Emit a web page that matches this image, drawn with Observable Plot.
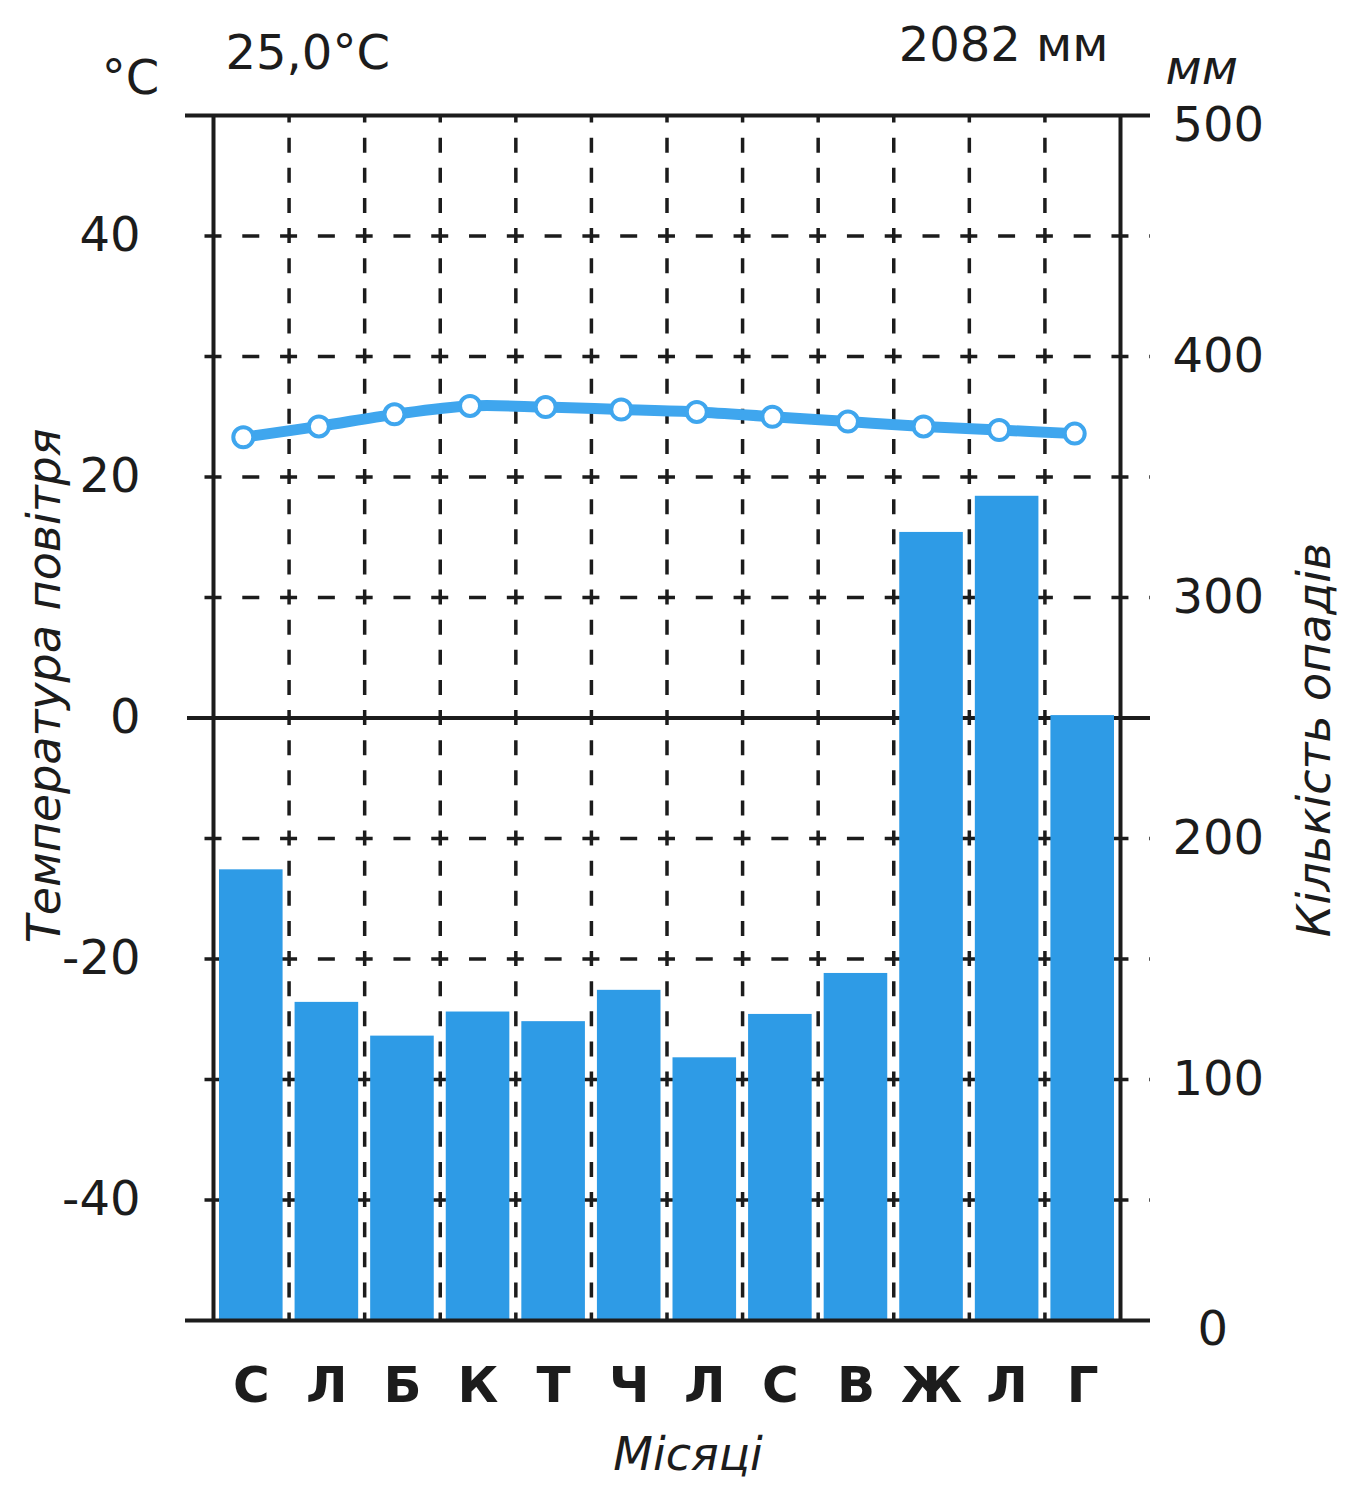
<!DOCTYPE html>
<html>
<head>
<meta charset="utf-8">
<script src="https://cdn.jsdelivr.net/npm/d3@7"></script>
<script src="https://cdn.jsdelivr.net/npm/@observablehq/plot@0.6"></script>
<style>
  html, body { margin: 0; padding: 0; background: #fff; }
</style>
</head>
<body>
<script>
// ---- data ----
const months = ["С", "Л", "Б", "К", "Т", "Ч", "Л", "С", "В", "Ж", "Л", "Г"];
const temperature = [23.3, 24.2, 25.2, 25.9, 25.8, 25.6, 25.4, 25.0, 24.6, 24.2, 23.9, 23.6]; // °C
const precipitation = [187, 132, 118, 128, 124, 137, 109, 127, 144, 327, 342, 251];          // mm
const tempTicks = [40, 20, 0, -20, -40];
const precipTicks = [0, 100, 200, 300, 400, 500];
const meanTempLabel = "25,0°C";
const totalPrecipLabel = "2082 мм";
const tempUnit = "°C";
const precipUnit = "мм";
const tempTitle = "Температура повітря";
const precipTitle = "Кількість опадів";
const monthTitle = "Місяці";

// precipitation axis: 0 mm ↔ -50 °C, 500 mm ↔ 50 °C
const mmToY = mm => mm / 5 - 50;

const table = months.map((m, i) => ({i, month: m, temp: temperature[i], precip: precipitation[i]}));
const gridTemps = d3.range(-40, 50, 10).filter(t => t !== 0);
const boundaries = d3.range(1, 12);

const ink = "#1c1c1c";
const barColor = "#2e9be6";
const lineColor = "#3fa6ee";
const font = "DejaVu Sans";
const T = {fill: ink, lineAnchor: "middle"};

const chart = Plot.plot({
  width: 1345,
  height: 1486,
  marginLeft: 213,
  marginRight: 225,
  marginTop: 115,
  marginBottom: 166,
  x: {domain: [0, 12], axis: null},
  y: {domain: [-50, 50], axis: null},
  style: {fontFamily: font, background: "#fff", overflow: "visible", color: ink},
  marks: [
    // dashed horizontal grid (every 10 °C)
    Plot.ruleY(gridTemps, {
      stroke: ink, strokeWidth: 3.5,
      strokeDasharray: "17 20.79", strokeDashoffset: 20.29,
      insetLeft: -26, insetRight: -30
    }),
    // zero line (under bars)
    Plot.ruleY([0], {stroke: ink, strokeWidth: 4, insetLeft: -26, insetRight: -30}),
    // precipitation bars
    Plot.rectY(table, {
      x1: d => d.i, x2: d => d.i + 1,
      y1: -50, y2: d => mmToY(d.precip),
      fill: barColor, insetLeft: 6, insetRight: 6
    }),
    // dashed vertical grid (month boundaries)
    Plot.ruleX(boundaries, {
      stroke: ink, strokeWidth: 3.5,
      strokeDasharray: "15 15.125", strokeDashoffset: 7.5
    }),
    // frame
    Plot.ruleX([0, 12], {stroke: ink, strokeWidth: 4}),
    Plot.ruleY([50, -50], {stroke: ink, strokeWidth: 4, insetLeft: -28, insetRight: -30}),
    // temperature curve
    Plot.line(table, {
      x: d => d.i + 0.5, y: "temp", dx: -8,
      stroke: lineColor, strokeWidth: 11, curve: "catmull-rom"
    }),
    Plot.dot(table, {
      x: d => d.i + 0.5, y: "temp", dx: -8,
      r: 10, fill: "#fff", stroke: lineColor, strokeWidth: 4
    }),
    // left tick labels
    Plot.text(tempTicks, {
      ...T, y: d => d, text: d => String(d), frameAnchor: "left",
      textAnchor: "end", dx: -73, fontSize: 48
    }),
    // right tick labels
    Plot.text(precipTicks.filter(d => d > 0 && d < 500), {
      ...T, y: d => mmToY(d), text: d => String(d), frameAnchor: "right",
      textAnchor: "start", dx: 52, fontSize: 48
    }),
    Plot.text(precipTicks.filter(d => d === 500), {
      ...T, y: d => mmToY(d), text: d => String(d), frameAnchor: "right",
      textAnchor: "start", dx: 52, dy: 10, fontSize: 48
    }),
    Plot.text(precipTicks.filter(d => d === 0), {
      ...T, y: d => mmToY(d), text: d => String(d), frameAnchor: "right",
      textAnchor: "start", dx: 77, dy: 9, fontSize: 48
    }),
    // month labels
    Plot.text(table, {
      ...T, x: d => d.i + 0.5, text: "month", frameAnchor: "bottom",
      textAnchor: "middle", dy: 65, fontSize: 50, fontWeight: "bold"
    }),
    Plot.text([monthTitle], {
      ...T, text: d => d, frameAnchor: "bottom", textAnchor: "middle", dx: 21, dy: 135,
      fontSize: 46, fontStyle: "italic"
    }),
    // axis titles
    Plot.text([tempTitle], {
      ...T, text: d => d, frameAnchor: "left", textAnchor: "middle", rotate: -90, dx: -168, dy: -32,
      fontSize: 46, fontStyle: "italic"
    }),
    Plot.text([precipTitle], {
      ...T, text: d => d, frameAnchor: "right", textAnchor: "middle", rotate: -90, dx: 195, dy: 22,
      fontSize: 46, fontStyle: "italic"
    }),
    // units and headers
    Plot.text([tempUnit], {
      ...T, text: d => d, frameAnchor: "top-left", textAnchor: "middle", dx: -83, dy: -37,
      fontSize: 48
    }),
    Plot.text([meanTempLabel], {
      ...T, text: d => d, frameAnchor: "top-left", textAnchor: "start", dx: 12, dy: -62,
      fontSize: 48
    }),
    Plot.text([totalPrecipLabel], {
      ...T, text: d => d, frameAnchor: "top-right", textAnchor: "end", dx: -12, dy: -70,
      fontSize: 48
    }),
    Plot.text([precipUnit], {
      ...T, text: d => d, frameAnchor: "top-right", textAnchor: "start", dx: 45, dy: -47,
      fontSize: 48, fontStyle: "italic"
    })
  ]
});

document.body.appendChild(chart);
</script>
</body>
</html>
